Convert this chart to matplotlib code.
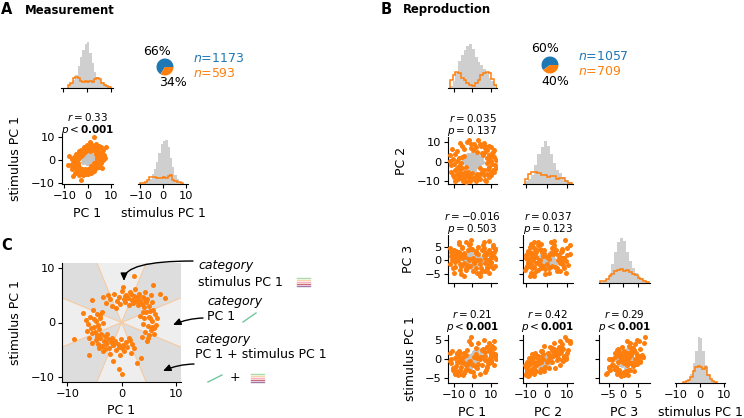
import numpy as np
import matplotlib
matplotlib.use("Agg")
import matplotlib.pyplot as plt
from matplotlib.patches import Wedge
from matplotlib.lines import Line2D

# ====================== DATA ======================
BLUE, ORANGE, GREY = "#1f77b4", "#ff7f0e", "#cfcfcf"

# ---- Panel A (measurement) ----
a_pie_pct = [66, 34]
a_n_all, a_n_sel = 1173, 593
a_r, a_p_op, a_p_val, a_p_bold = "0.33", "<", "0.001", True

a_hist_pc1_edges = np.arange(-8, 11, 1.0)
a_hist_pc1_all = [3, 5, 8, 13, 22, 31, 38, 44, 46, 35, 25, 16, 11, 8, 6, 4, 3, 2]
a_hist_pc1_sel = [3, 5, 10, 11, 10, 7, 6, 7, 6, 7, 6, 9, 10, 9, 5, 3, 2, 1]
a_hist_s_edges_all = np.arange(-8, 9, 1.0)
a_hist_s_all = [2, 3, 5, 10, 15, 22, 31, 40, 43, 44, 37, 26, 17, 9, 5, 2]
a_hist_s_edges_sel = np.arange(-10, 10, 1.0)
a_hist_s_sel = [1, 1, 2, 4, 7, 7, 7, 6, 6, 6, 7, 6, 8, 9, 4, 3, 2, 2, 1]

a_sel_pc1 = [4.3, 5.6, 6.9, 4.2, 5.9, 7.2, 3.8, 5.5, 6.6, 3.5, 4.4, 5.8, 2.1, 3.3, 3.6,
             1.2, 1.4, 2.0, -0.2, 0.3, -0.1, -1.0, -1.1, -1.7, -1.8, -2.1, -2.9, -2.4, -3.1, -3.6,
             -3.0, -3.7, -4.9, -3.6, -4.5, -5.9, -4.1, -5.3, -6.8, -4.2, -5.9, -7.3, -3.9, -5.5, -6.6,
             -3.3, -4.7, -5.5, -2.2, -3.2, -3.7, -1.2, -1.4, -1.9, 0.2, -0.1, 0.3, 0.9, 1.3, 1.4,
             1.7, 2.3, 2.6, 2.3, 3.1, 3.6, 2.9, 3.9, 4.7, 3.6, 4.5, 5.9,
             5.3, 5.3, 5.0, 3.7, 2.4, 0.6, -0.7, -1.5, -2.4, -2.9, -3.9, -4.6, -5.2, -5.5, -4.8, -3.9,
             -2.1, -0.8, 0.7, 1.5, 2.4, 2.9, 3.9, 4.6,
             2.7, -8.2, 8.1, -2.9, 7.6, -6.2, 1.0, -7.8, 6.2,
             6.3, 4.9, 3.0, 0.9, -1.4, -3.4, -4.4, -6.1, -6.3, -4.4, -2.6, -0.5, 1.9, 3.3, 5.0, 6.5]
a_sel_spc1 = [0.2, -0.4, 0.6, 1.4, 1.3, 2.1, 2.5, 2.9, 4.1, 3.2, 4.8, 5.4, 4.2, 5.2, 6.9,
              3.9, 5.8, 6.6, 4.1, 5.1, 6.7, 3.3, 4.7, 5.5, 2.7, 3.9, 4.5, 2.1, 3.2, 3.9,
              1.5, 2.4, 2.6, 0.8, 1.4, 1.3, 0.2, -0.3, 0.3, -1.3, -1.4, -2.1, -2.4, -2.9, -4.1,
              -3.5, -4.4, -5.8, -4.1, -5.2, -6.8, -4.0, -5.8, -6.6, -4.1, -5.4, -6.4, -3.6, -4.4, -5.7,
              -2.7, -3.9, -4.8, -2.1, -3.1, -3.8, -1.5, -2.3, -2.6, -0.8, -1.3, -1.4,
              0.8, 2.1, 3.6, 5.1, 5.3, 5.4, 4.5, 3.9, 2.9, 2.4, 1.5, 0.7, -0.8, -2.1, -3.9, -4.8,
              -5.5, -5.1, -4.7, -3.7, -3.1, -2.2, -1.7, -0.5,
              10.0, -2.3, 5.6, -8.8, 0.8, -6.9, 8.0, 1.5, -3.5,
              3.0, 6.2, 6.1, 6.0, 4.4, 1.9, -0.6, -3.1, -1.2, -6.0, -6.2, -6.1, -5.2, -2.6, -3.0, -0.3]
a_oth_pc1 = [-0.5, 0.9, -1.6, 1.8, 0.2, -1.1, 1.3, -0.3, 2.1, -2.0, 0.6, -0.9, 1.5, -1.8,
             2.4, 0.1, -0.2, 1.0, -1.3, 0.4, 2.0, -2.2, 0.8, -0.6, 1.6]
a_oth_spc1 = [0.8, 1.6, -0.3, 0.4, 2.7, 2.1, -0.9, -1.2, 2.3, 1.0, 0.1, 3.0, 3.1, -1.0,
              -0.4, -0.5, 1.8, 2.4, 0.4, 3.4, 1.2, 2.6, -1.5, -0.1, 0.9]

# ---- Panel B (reproduction) ----
b_pie_pct = [60, 40]
b_n_all, b_n_sel = 1057, 709
b_names = ["PC 1", "PC 2", "PC 3", "stimulus PC 1"]
b_stats = {(1, 0): ("0.035", "=", "0.137", False),
           (2, 0): ("-0.016", "=", "0.503", False),
           (2, 1): ("0.037", "=", "0.123", False),
           (3, 0): ("0.21", "<", "0.001", True),
           (3, 1): ("0.42", "<", "0.001", True),
           (3, 2): ("0.29", "<", "0.001", True)}

b_hist_edges = [np.arange(-12, 13.6, 1.5), np.arange(-10.5, 12.1, 1.5),
                np.arange(-8, 9.1, 1.0), np.arange(-7, 7.1, 1.0)]
b_hist_all = [[2, 7, 15, 28, 34, 39, 43, 45, 40, 32, 27, 23, 19, 15, 10, 7, 4],
              [3, 5, 9, 20, 31, 39, 45, 40, 31, 22, 15, 11, 7, 4, 2],
              [1, 2, 4, 9, 19, 32, 42, 46, 43, 32, 22, 15, 10, 7, 5, 3, 1],
              [1, 1, 3, 9, 20, 33, 47, 46, 33, 18, 9, 4, 2, 1]]
b_hist_sel = [[8, 13, 16, 15, 10, 8, 5, 3, 2, 5, 8, 13, 15, 16, 15, 9, 3],
              [5, 10, 13, 12, 11, 9, 9, 7, 8, 8, 5, 6, 6, 3, 1],
              [2, 2, 4, 7, 9, 12, 13, 14, 12, 13, 11, 9, 8, 5, 4, 2, 1],
              [1, 2, 3, 6, 12, 16, 17, 16, 14, 16, 8, 4, 2, 1]]

b_sel_pc1 = [-8.3, -6.1, -4.4, -9.2, -7.4, -5.3, -2.8, -10.1, -6.4, -8.7, -3.9, -1.8, -7.2, -9.5,
             -5.1, -3.2, -6.6, -11.2, -4.3, -8.1, -2.4, -7.0, -5.6, -9.3, -3.3, -11.4, -10.3, -12.1,
             -8.4, -9.1, -7.3, -10.7, -6.2, -9.8, -8.2, -11.9, -6.9, -5.2, -2.7, -0.8, 1.3, 3.2, 5.1,
             -1.9, 0.4, 2.2, -4.1, 6.3, 4.2, -6.3, 7.1, -0.7, 8.2, 10.3, 9.1, 11.2, 7.2, 12.1, 6.1,
             10.1, 8.3, 11.4, 9.2, 6.8, 10.2, 12.3, 9.3, 12.8, 11.1, 8.1, 11.8, 10.4, 9.2, 10.9, 12.9,
             8.4, 9.8, 11.7, 6.2, 8.3, 4.1, 9.1, 5.3, 3.2, 6.9, 10.2, 2.1, 6.3, 4.4, 7.8, 0.3, -1.2,
             1.9, 0.8, -1.8, 2.8, 0.1, -0.9, -4.2, 4.1, 5.2, -3.3, 2.8, -5.2]
b_sel_pc2 = [-6.2, -8.4, -9.1, -4.3, -8.8, -6.6, -7.3, -6.9, -4.1, -9.3, -5.2, -9.6, -2.7, -7.8,
             -10.2, -6.0, -7.4, -5.4, -8.1, -3.4, -5.1, -5.8, -3.1, -9.9, -10.4, -1.8, 1.2, 3.3,
             0.4, 4.2, 2.1, 6.3, -0.8, -1.3, 5.4, 0.2, -2.2, 8.1, 10.3, 7.2, 9.2, 11.1, 8.3,
             11.4, 6.2, 7.4, 6.3, 9.8, 9.1, 9.7, 8.2, 8.9, 6.1, 4.2, 7.9, 2.8, 4.8, 6.2, 3.3,
             7.3, 1.8, 5.1, 3.4, 7.1, 0.3, -1.8, -2.8, 1.1, -4.2, -0.7, 2.3, -5.1, 1.3, -1.2, -3.1,
             -3.9, 2.4, -5.3, -7.1, -6.2, -8.8, -7.9, -5.2, -8.3, -9.2, -6.8, -10.1, -4.2, -6.3, -9.7,
             -8.2, -9.8, -7.2, -9.1, -6.8, -6.1, -5.8, -7.7, 3.1, -3.2, 4.3, -2.8, 5.2, 2.3]
b_sel_pc3 = [1.4, -2.2, 2.7, -0.6, 0.3, 4.8, -2.9, 2.2, -3.7, 3.6, 1.1, 0.4, 5.9, -4.6,
             1.8, 6.6, -1.3, 2.9, -5.6, 0.2, 3.8, 2.6, -1.8, 0.9, -3.6, 1.7, -2.8, 4.6,
             1.2, -2.3, 6.8, 0.3, -4.9, 3.9, 2.1, -1.2, 3.2, 0.8, -1.7, 4.1, -0.3, 2.3, -2.7,
             5.6, -3.8, 3.3, -0.9, 4.7, -4.6, 1.9, 0.7, 7.6, -0.4, 2.8, -1.6, 4.9, -3.9, 1.3, 5.8,
             -0.7, 2.4, -2.8, 7.2, 2.9, 1.1, -1.9, 3.7, 0.4, 5.7, -3.2, 3.1, -0.8, -4.8, 2.2, 4.1,
             0.3, -2.1, 1.4, 2.1, -2.3, 0.2, 3.2, -3.8, 4.9, -1.1, 1.3, -2.9, 6.9, -5.8, 2.3, 0.8, -2.1,
             2.8, -0.8, 0.1, -4.7, 4.2, 5.9, 2.3, -1.2, 3.8, -2.7, 0.3, 4.6]
b_sel_spc1 = [-0.9, -3.9, -1.1, 0.2, -4.2, 0.4, -2.6, -3.0, 0.1, -1.8, -3.3, -0.7, -0.9, -2.9,
              -4.2, 1.1, -2.9, -1.0, -3.7, -3.5, -1.3, 1.7, -0.7, -3.9, -1.5, 0.0, -2.5, 1.7,
              1.5, -2.5, 0.5, 2.2, -2.1, -3.2, 1.3, -0.5, 2.1, -0.5, 2.4, 3.9, 0.6, 4.2, 0.5,
              4.7, -1.7, 3.0, 1.7, 5.1, 0.1, 1.6, 0.7, 5.9, 3.1, 1.1, 2.7, 1.0, -0.2, 4.8, 2.8,
              -0.2, 3.2, 1.5, 4.3, 2.0, -0.8, 1.3, 2.2, 1.0, 0.7, -2.2, 2.9, 0.7, -0.1, 3.4, 0.1,
              -1.1, 2.4, -1.7, 0.6, -2.0, 0.4, -1.1, -1.6, -1.2, -3.5, 1.2, -2.2, 0.5, -3.9, -2.9, -3.5, -3.3,
              1.4, -4.6, -0.7, -2.3, -1.3, -0.4, 0.8, 0.5, 2.4, -2.7, 0.4, -0.8]
b_oth_pc1 = [-1.2, 0.5, 1.8, -2.3, 0.9, 2.6, -0.4, -3.1, 3.4, -1.7, 1.1, -0.8, 2.2, -2.6, 0.2,
             3.9, -3.8, 1.5, -1.1, 4.6, -0.2, 2.9, -2.0, 0.7, -4.4, 3.1, 1.3, -1.5, 5.2, -0.6]
b_oth_pc2 = [0.8, -1.1, 1.9, -0.6, 2.8, -0.3, -2.2, 1.6, 1.2, 2.4, -2.9, 0.1, 3.6, -2.0, 1.4,
             -1.6, -0.4, 0.3, -3.4, 2.1, 3.9, -2.4, 3.2, -0.5, 1.0, 2.7, -4.1, -1.3, -0.2, 2.0]
b_oth_pc3 = [0.3, -0.7, 1.2, -1.4, 0.6, 1.9, -0.2, 0.9, -1.1, 2.2, 0.4, -2.1, -0.5, 1.5, 2.8,
             0.1, -0.8, -1.8, 1.1, 0.8, -1.3, 2.5, -0.3, 0.2, 0.5, 1.6, -0.9, 3.1, -0.4, -2.6]
b_oth_spc1 = [-0.4, 0.6, 1.1, -1.2, 1.8, 0.2, -1.6, 0.3, 0.9, 0.7, -0.9, -0.2, 2.2, -1.9, 0.5,
              0.0, -0.6, 1.4, -2.3, 1.7, 1.2, -0.4, 0.9, -0.1, -1.0, 2.6, -1.3, 0.1, 0.8, 0.4]

# ---- Panel C ----
c_pc1 = [-2.8, -2.2, -1.7, -1.3, -0.9, -0.5, -0.2, 0.1, 0.4, 0.7, 0.9, 1.2, 1.4, 1.6, 1.9, 2.1,
         2.3, 2.5, 2.7, 2.9, 3.1, 3.3, 3.5, 3.7, 3.9, 4.1, 4.3, 4.5, 4.8, 5.1, 5.4, 5.6, -3.5, -1.0, 0.3,
         5.8, 4.6, 6.2, 5.1, 4.2, 5.7, 6.4, 4.9, 3.9, 5.4, 4.4, 6.0, 3.7, 4.9, 5.2, 6.6, 4.0, 5.6, 3.5, 4.7,
         -3.6, -4.5, -5.3, -4.0, -5.8, -4.7, -3.4, -6.2, -5.1, -4.2, -6.4, -5.5, -3.8, -4.6, -6.0, -5.0,
         -3.9, -5.7, -4.4, -6.6,
         -4.8, -4.3, -3.9, -3.6, -3.3, -3.0, -2.8, -2.5, -2.3, -2.0, -1.8, -1.5, -1.2, -1.0, -0.7, -0.4,
         -0.1, 0.2, 0.5, 0.8, 1.1, 1.4, 1.7, 2.0, 2.3, -3.5, -2.1, -4.1, -0.3, -2.6,
         -8.7, 0.1, -0.4, -6.1, 8.0, 5.8, 2.4, -1.5, 3.6, -7.2, 7.1, -5.4, 2.9,
         -2.5, 0.6, 1.8, 3.0, 4.4, 5.3, 6.1, 5.0, -4.9, -5.4, -3.1, -1.6, 0.0, 1.5, -4.5, -2.9]
c_spc1 = [3.6, 4.4, 3.1, 5.2, 4.0, 4.8, 3.5, 5.9, 4.3, 3.8, 5.1, 4.6, 3.3, 5.6, 4.1, 3.6,
          4.9, 6.2, 3.9, 4.4, 3.2, 5.3, 4.0, 3.5, 4.7, 2.9, 5.6, 3.7, 4.3, 3.1, 5.0, 3.8, 4.7, 2.6, 6.6,
          2.4, 2.0, 1.6, 1.1, 0.8, 0.3, -0.4, -0.6, -0.2, -1.3, -1.8, -2.1, -2.6, -2.9, 0.9, 0.9, 1.9, -0.9, 1.2, -3.5,
          2.0, 1.6, 2.3, 0.9, 1.0, 0.2, -0.1, -0.3, -0.8, -1.2, -1.6, -2.0, -2.1, -2.7, -2.8, 0.6,
          1.4, -1.1, -0.4, 0.4,
          -3.3, -3.9, -2.8, -4.4, -3.4, -2.5, -4.0, -3.1, -4.7, -3.6, -2.9, -4.2, -3.4, -5.0, -3.9, -4.5,
          -3.1, -4.1, -5.3, -3.6, -4.6, -2.8, -5.6, -3.9, -4.8, -5.2, -5.8, -4.8, -6.1, -2.2,
          -3.1, -9.6, -8.6, -6.0, 4.5, 7.0, 8.6, -7.2, -6.5, 1.8, 5.2, 4.1, -7.4,
          5.0, 4.9, 5.2, 4.7, 4.1, 2.2, -1.1, -2.4, -1.8, -3.7, -4.9, -4.1, -4.8, -3.2, -2.4, -3.7]

c_texts = [("category", "stimulus PC 1"), ("category", "PC 1"), ("category", "PC 1 + stimulus PC 1")]
stripe_colors = ["#a8dca8", "#f9d2ac", "#f2b4c0", "#cf6a7c", "#a07aa8"]
icon_green = "#74c69d"

# ====================== FIGURE ======================
W, H = 744, 418
plt.rcParams.update({"font.family": ["DejaVu Sans"], "axes.linewidth": 0.8,
                     "xtick.major.width": 0.8, "ytick.major.width": 0.8,
                     "xtick.major.size": 3, "ytick.major.size": 3,
                     "xtick.major.pad": 2, "ytick.major.pad": 2,
                     "xtick.labelsize": 8.2, "ytick.labelsize": 8.2,
                     "axes.labelsize": 9, "mathtext.fontset": "dejavusans"})
fig = plt.figure(figsize=(W / 100, H / 100), dpi=100)
PT = 13  # scatter marker size


def axpx(x0, y0, x1, y1):
    return fig.add_axes([x0 / W, 1 - y1 / H, (x1 - x0) / W, (y1 - y0) / H])


def fx(x):
    return x / W


def fy(y):
    return 1 - y / H


def base_style(ax, left=True):
    for s in ("top", "right"):
        ax.spines[s].set_visible(False)
    if not left:
        ax.spines["left"].set_visible(False)
        ax.set_yticks([])


def hist_ax(ax, edges_all, vals_all, edges_sel, vals_sel, xlim, ticks, height, labels=False):
    base_style(ax, left=False)
    ax.stairs(vals_all, edges_all, fill=True, color=GREY, lw=0)
    ax.stairs(vals_sel, edges_sel, color=ORANGE, lw=1.1, baseline=0)
    ax.set_xlim(*xlim)
    ax.set_ylim(0, height)
    ax.set_xticks(ticks)
    if not labels:
        ax.set_xticklabels([])


def scatter_ax(ax, xo, yo, xs, ys, xlim, ylim, xt, yt, xlab=True, ylab=True):
    base_style(ax)
    ax.scatter(xo, yo, s=PT, color="#c4c4c4", lw=0, zorder=2)
    ax.scatter(xs, ys, s=PT, color=ORANGE, lw=0, zorder=3)
    ax.set_xlim(*xlim)
    ax.set_ylim(*ylim)
    ax.set_xticks(xt)
    ax.set_yticks(yt)
    if not xlab:
        ax.set_xticklabels([])
    if not ylab:
        ax.set_yticklabels([])


def stats(ax, r, op, pv, bold, d_p, d_r):
    rtxt = r"$r = " + r + r"$"
    ptxt = r"$p " + op + (r" \mathbf{" + pv + r"}$" if bold else r" " + pv + r"$")
    for t, d in ((rtxt, d_r), (ptxt, d_p)):
        ax.annotate(t, xy=(0.5, 1), xycoords="axes fraction", xytext=(0, d * 0.72),
                    textcoords="offset points", ha="center", va="center", fontsize=7.5,
                    annotation_clip=False)


def pie(cx, cy, pcts, n_all, n_sel, tx):
    axp = axpx(cx - 8.5, cy - 8.5, cx + 8.5, cy + 8.5)
    axp.pie(pcts, colors=[BLUE, ORANGE], startangle=0, autopct="%d%%", pctdistance=2.05,
            textprops=dict(fontsize=9), wedgeprops=dict(linewidth=0))
    axp.set_xlim(-1, 1)
    axp.set_ylim(-1, 1)
    for t in axp.texts:
        t.set_clip_on(False)
    fig.text(fx(tx), fy(cy - 8), r"$n$=%d" % n_all, color=BLUE, fontsize=9, va="center")
    fig.text(fx(tx), fy(cy + 6.5), r"$n$=%d" % n_sel, color=ORANGE, fontsize=9, va="center")


# ---------------- Panel titles ----------------
title_kw = dict(fontweight="bold", family="DejaVu Sans", va="center")
fig.text(fx(1), fy(10), "A", fontsize=10.5, **title_kw)
fig.text(fx(25), fy(10), "Measurement", fontsize=8.4, **title_kw)
fig.text(fx(381), fy(10), "B", fontsize=10.5, **title_kw)
fig.text(fx(403), fy(10), "Reproduction", fontsize=8.4, **title_kw)
fig.text(fx(1), fy(245), "C", fontsize=10.5, **title_kw)

# ---------------- Panel A ----------------
ax = axpx(61, 40, 113, 88)
hist_ax(ax, a_hist_pc1_edges, a_hist_pc1_all, a_hist_pc1_edges, a_hist_pc1_sel,
        (-11, 11), [-10, 0, 10], 48)
pie(165, 67, a_pie_pct, a_n_all, a_n_sel, 193)

ax = axpx(62, 134, 113, 184)
scatter_ax(ax, a_oth_pc1, a_oth_spc1, a_sel_pc1, a_sel_spc1, (-11, 11), (-10.6, 11.3),
           [-10, 0, 10], [-10, 0, 10])
ax.set_xlabel("PC 1")
ax.set_ylabel("stimulus PC 1")
ax.yaxis.set_label_coords(-0.78, 0.5)
stats(ax, a_r, a_p_op, a_p_val, a_p_bold, 4, 17)

ax = axpx(138, 134, 188, 184)
hist_ax(ax, a_hist_s_edges_all, a_hist_s_all, a_hist_s_edges_sel, a_hist_s_sel,
        (-11, 11), [-10, 0, 10], 50, labels=True)
ax.set_xlabel("stimulus PC 1")

# ---------------- Panel B ----------------
col_x = [(448, 497), (523, 573), (599, 650), (675, 725)]
row_y = [(40, 88), (137, 184), (235, 283), (335, 383)]
b_lims = [(-13, 13.5), (-11.5, 12.7), (-8.3, 9.3), (-6.4, 6.4)]
b_ticks = [[-10, 0, 10], [-10, 0, 10], [-5, 0, 5], [-5, 0, 5]]
b_sel = [b_sel_pc1, b_sel_pc2, b_sel_pc3, b_sel_spc1]
b_oth = [b_oth_pc1, b_oth_pc2, b_oth_pc3, b_oth_spc1]
ylab_x = [None, -0.82, -0.67, -0.63]

for i in range(4):
    for j in range(i + 1):
        (x0, x1), (y0, y1) = col_x[j], row_y[i]
        ax = axpx(x0, y0, x1, y1)
        if i == j:
            xl = (-10.5, 10.5) if i == 3 else b_lims[i]
            xt = [-10, 0, 10] if i == 3 else b_ticks[i]
            hist_ax(ax, b_hist_edges[i], b_hist_all[i], b_hist_edges[i], b_hist_sel[i],
                    xl, xt, 49, labels=(i == 3))
        else:
            scatter_ax(ax, b_oth[j], b_oth[i], b_sel[j], b_sel[i], b_lims[j], b_lims[i],
                       b_ticks[j], b_ticks[i], xlab=(i == 3), ylab=(j == 0))
            r, op, pv, bold = b_stats[(i, j)]
            if i == 3:
                stats(ax, r, op, pv, bold, 8, 21)
            else:
                stats(ax, r, op, pv, bold, 6, 19)
            if j == 0:
                ax.set_ylabel(b_names[i])
                ax.yaxis.set_label_coords(ylab_x[i], 0.5)
        if i == 3:
            ax.set_xlabel(b_names[j])

pie(550, 65, b_pie_pct, b_n_all, b_n_sel, 578)

# ---------------- Panel C ----------------
axc = axpx(62, 263, 181, 382)
base_style(axc)
light, dark = "#eeeeee", "#dddddd"
for k in range(8):
    a0 = -22.5 + 45 * k
    axc.add_patch(Wedge((0, 0), 40, a0, a0 + 45, facecolor=light if k % 2 == 0 else dark,
                        edgecolor="none", zorder=0))
for k in range(8):
    a = np.deg2rad(22.5 + 45 * k)
    axc.plot([0, 40 * np.cos(a)], [0, 40 * np.sin(a)], color="#f5c9a0", lw=0.8, zorder=1)
axc.scatter(c_pc1, c_spc1, s=PT, color=ORANGE, lw=0, zorder=3)
axc.set_xlim(-11, 11)
axc.set_ylim(-11, 11)
axc.set_xticks([-10, 0, 10])
axc.set_yticks([-10, 0, 10])
axc.set_xlabel("PC 1")
axc.set_ylabel("stimulus PC 1")
axc.yaxis.set_label_coords(-0.336, 0.5)

# annotation texts
txt_pos = [(198, 266, 282), (207, 302, 317), (195, 340, 355)]
for (t1, t2), (x, y1, y2) in zip(c_texts, txt_pos):
    fig.text(fx(x), fy(y1), t1, fontsize=9, style="italic", va="center")
    fig.text(fx(x), fy(y2), t2, fontsize=9, va="center")
fig.text(fx(235), fy(377.5), "+", fontsize=9, va="center", ha="center")


def fp(x, y):
    return (x, H - y)


arrow_kw = dict(arrowstyle="-|>,head_length=0.45,head_width=0.2", color="black", lw=1,
                shrinkA=0, shrinkB=0)
axc.annotate("", xy=fp(124, 281), xycoords="figure pixels", xytext=fp(193, 261),
             textcoords="figure pixels", annotation_clip=False,
             arrowprops=dict(connectionstyle="angle3,angleA=0,angleB=90", **arrow_kw))
axc.annotate("", xy=fp(173, 325), xycoords="figure pixels", xytext=fp(203, 318),
             textcoords="figure pixels", annotation_clip=False,
             arrowprops=dict(connectionstyle="arc3,rad=0.1", **arrow_kw))
axc.annotate("", xy=fp(163, 371), xycoords="figure pixels", xytext=fp(194, 364),
             textcoords="figure pixels", annotation_clip=False,
             arrowprops=dict(connectionstyle="arc3,rad=0.1", **arrow_kw))


def stripes(x0, x1, y0, y1):
    for yy, c in zip(np.linspace(y0, y1, len(stripe_colors)), stripe_colors):
        fig.add_artist(Line2D([fx(x0), fx(x1)], [fy(yy), fy(yy)], color=c, lw=1.0,
                              transform=fig.transFigure))


def green_line(xa, ya, xb, yb):
    fig.add_artist(Line2D([fx(xa), fx(xb)], [fy(ya), fy(yb)], color=icon_green, lw=1.0,
                          transform=fig.transFigure))


stripes(297, 310, 278, 286)
stripes(251, 264, 373.5, 381.5)
green_line(243, 322, 256, 313)
green_line(208, 382, 222, 375)

fig.savefig("out.png", dpi=100)
